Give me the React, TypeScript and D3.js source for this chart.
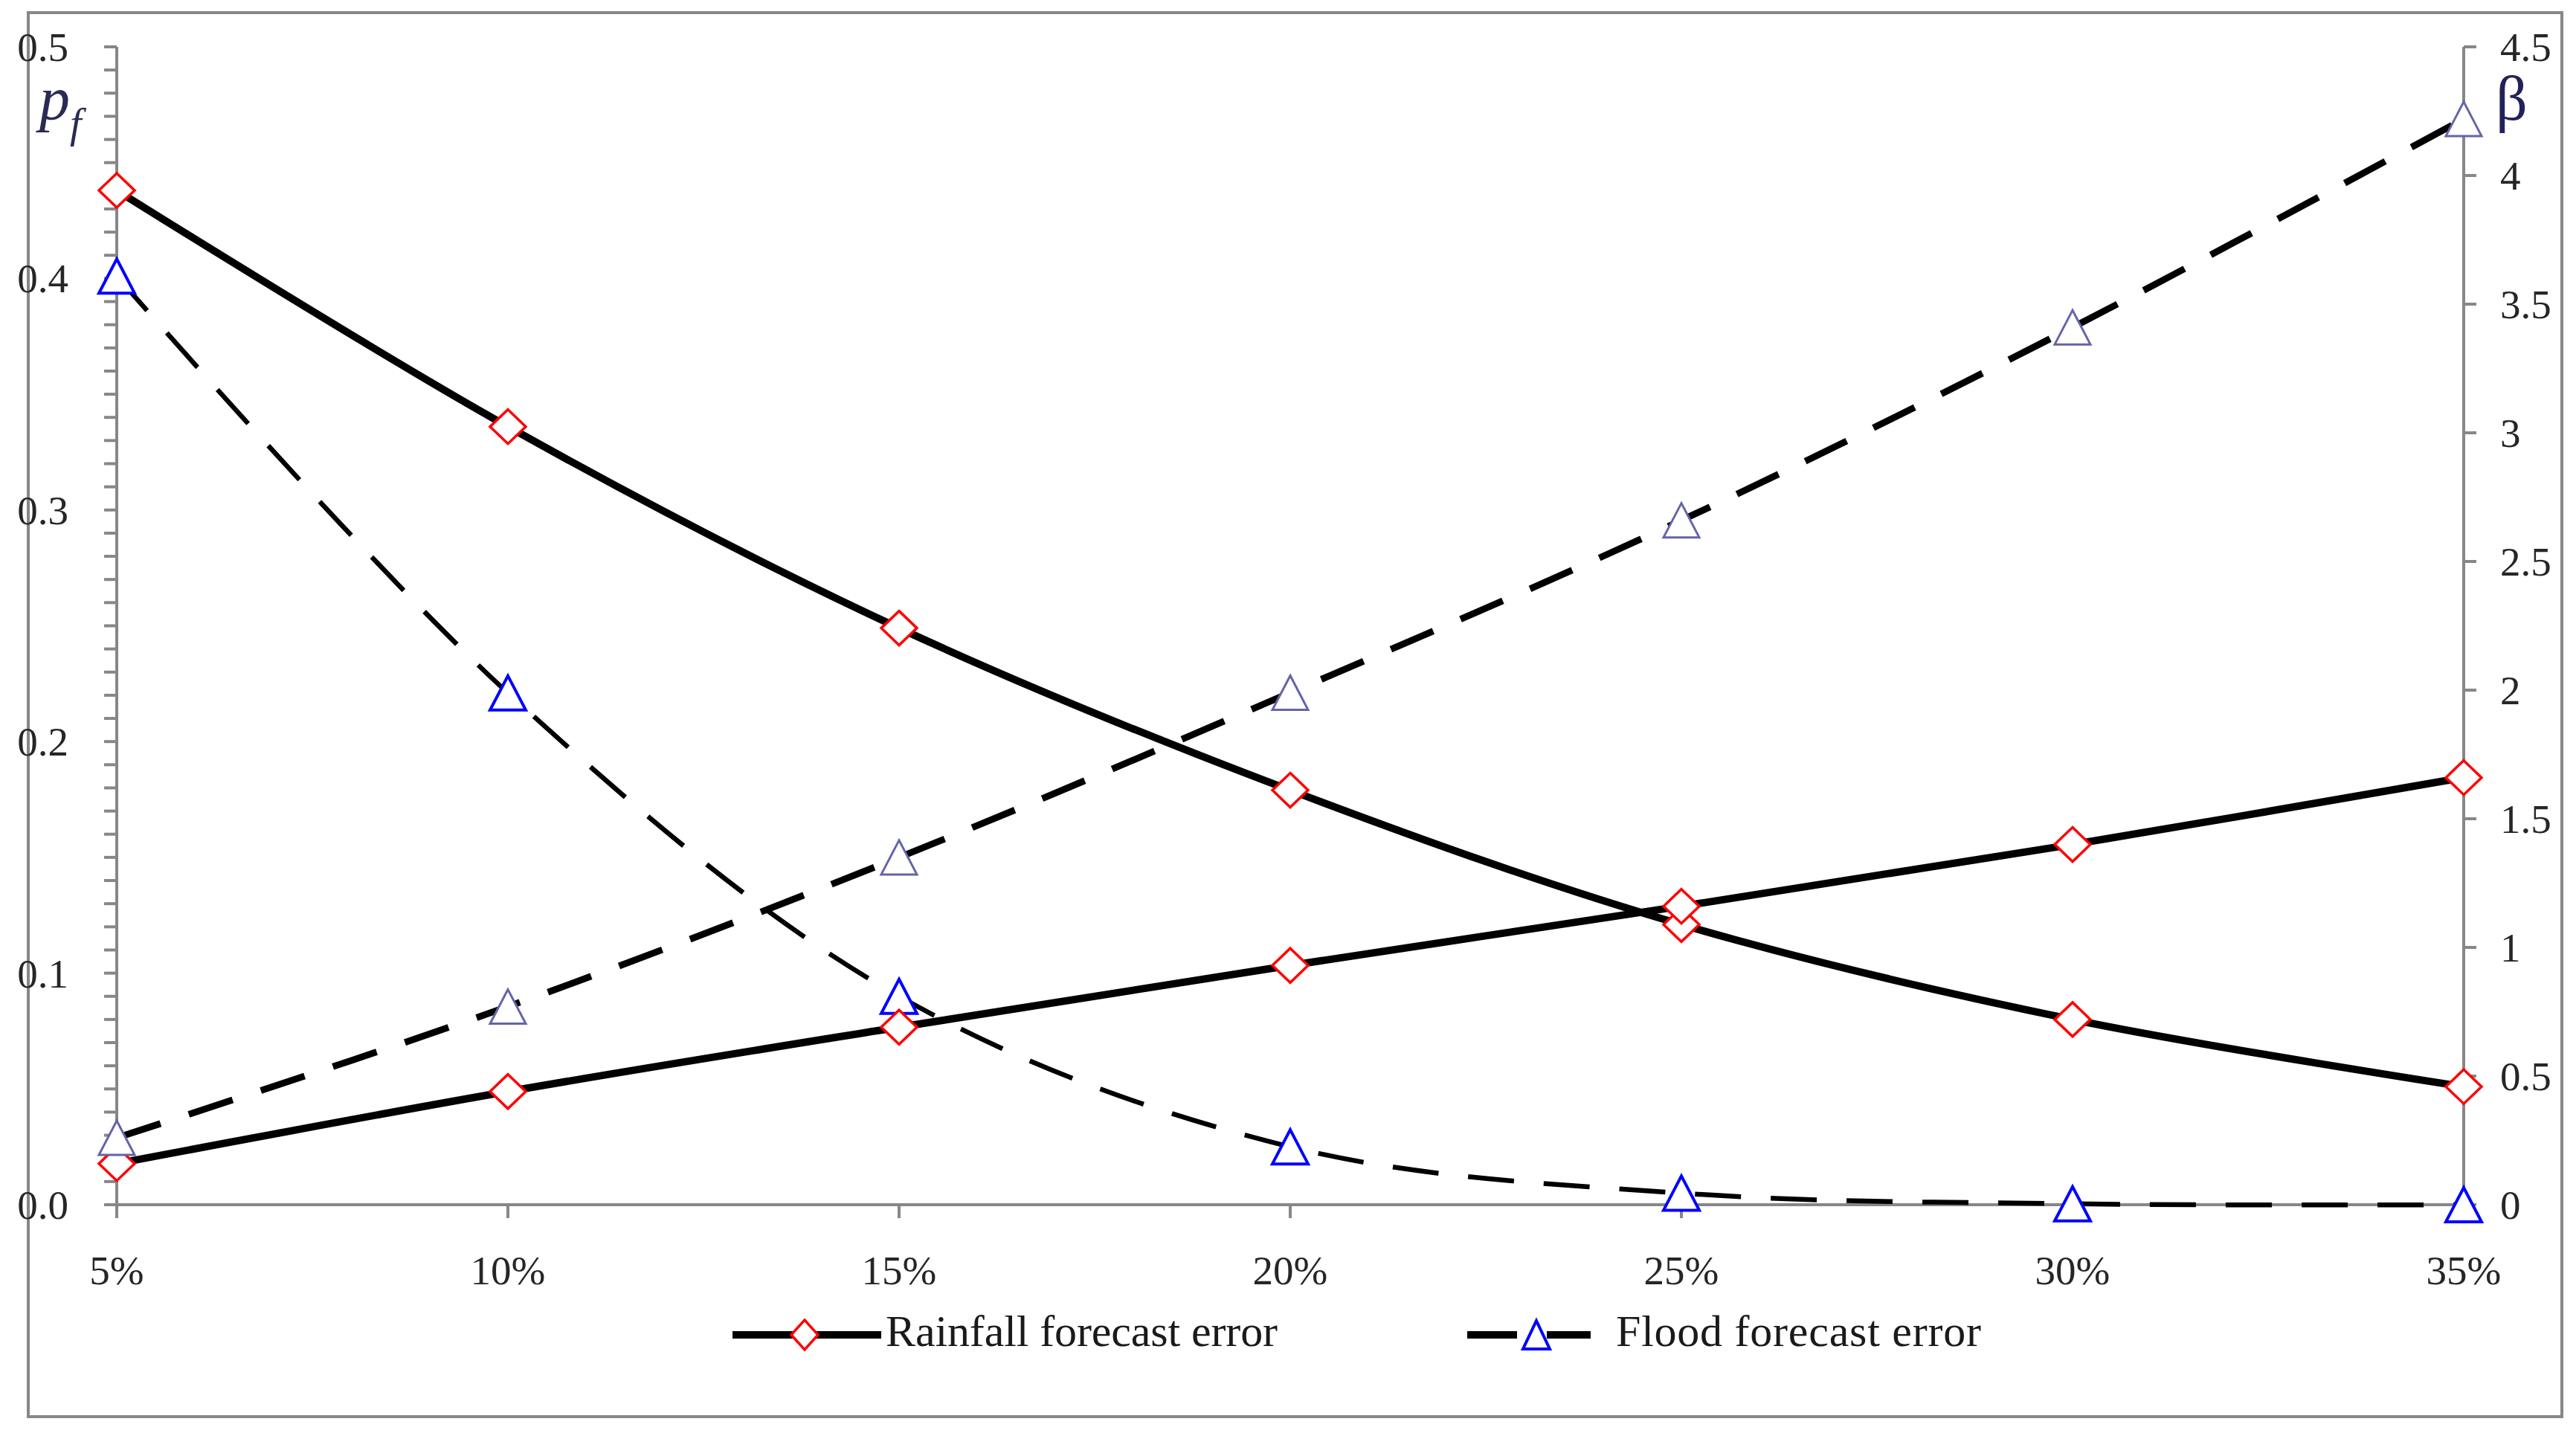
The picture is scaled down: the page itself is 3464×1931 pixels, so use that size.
import React, { useEffect } from "react";
import * as d3 from "d3";

// ---- data ----
const categories = ["5%", "10%", "15%", "20%", "25%", "30%", "35%"];
const rainfallPf = [0.438, 0.336, 0.249, 0.179, 0.121, 0.08, 0.051];
const floodPf = [0.401, 0.221, 0.09, 0.025, 0.005, 0.0004, 0.00001];
const rainfallBeta = [0.16, 0.44, 0.69, 0.93, 1.16, 1.4, 1.66];
const floodBeta = [0.26, 0.77, 1.35, 1.99, 2.66, 3.41, 4.22];
const leftTicks = [0, 0.1, 0.2, 0.3, 0.4, 0.5];
const leftTickLabels = ["0.0", "0.1", "0.2", "0.3", "0.4", "0.5"];
const rightTicks = [0, 0.5, 1, 1.5, 2, 2.5, 3, 3.5, 4, 4.5];
const rightTickLabels = ["0", "0.5", "1", "1.5", "2", "2.5", "3", "3.5", "4", "4.5"];
const legendLabels = ["Rainfall forecast error", "Flood forecast error"];

const W = 3464;
const H = 1931;
const AX = "#878787";
const FONT = "'Liberation Serif', 'Times New Roman', serif";

export default function App() {
  useEffect(() => {
    document.body.style.margin = "0";
  }, []);

  const x = d3.scalePoint<string>().domain(categories).range([157, 3313]);
  const yL = d3.scaleLinear().domain([0, 0.5]).range([1620, 63]);
  const yR = d3.scaleLinear().domain([0, 4.5]).range([1620, 63]);

  const lineL = d3
    .line<number>()
    .x((_, i) => x(categories[i]) as number)
    .y((d) => yL(d))
    .curve(d3.curveCatmullRom.alpha(0.5));
  const lineR = d3
    .line<number>()
    .x((_, i) => x(categories[i]) as number)
    .y((d) => yR(d))
    .curve(d3.curveCatmullRom.alpha(0.5));

  const diamond = (w: number, h: number) =>
    `M0,${-h / 2}L${w / 2},0L0,${h / 2}L${-w / 2},0Z`;
  const triangle = (w: number, h: number) =>
    `M0,${-h / 2}L${w / 2},${h / 2}L${-w / 2},${h / 2}Z`;

  const minorTicks = d3.range(0, 51).map((i) => i / 100);

  const series = [
    { vals: rainfallPf, gen: lineL, y: yL, dash: null, sw: 10, shape: diamond(48, 46), color: "#ff0000", msw: 3.5 },
    { vals: floodPf, gen: lineL, y: yL, dash: "62 40", sw: 6.5, shape: triangle(48, 46), color: "#0000ff", msw: 4 },
    { vals: rainfallBeta, gen: lineR, y: yR, dash: null, sw: 10, shape: diamond(48, 46), color: "#ff0000", msw: 3.5 },
    { vals: floodBeta, gen: lineR, y: yR, dash: "62 40", sw: 9, shape: triangle(48, 46), color: "#6464aa", msw: 3 },
  ];

  return (
    <svg
      width={W}
      height={H}
      viewBox={`0 0 ${W} ${H}`}
      style={{ position: "absolute", left: 0, top: 0, display: "block", background: "#fff" }}
    >
      <rect x={0} y={0} width={W} height={H} fill="#fff" />
      {/* outer frame */}
      <rect x={38} y={17} width={3407} height={1888} fill="none" stroke={AX} strokeWidth={4} />

      {/* left axis */}
      <line x1={157} x2={157} y1={63} y2={1620} stroke={AX} strokeWidth={4} />
      {minorTicks.map((v, i) => (
        <line key={"lm" + i} x1={140} x2={157} y1={yL(v)} y2={yL(v)} stroke={AX} strokeWidth={4} />
      ))}
      {leftTicks.map((v, i) => (
        <text
          key={"lt" + i}
          x={92}
          y={yL(v) + 19}
          textAnchor="end"
          fontFamily={FONT}
          fontSize={55}
          fill="#262626"
        >
          {leftTickLabels[i]}
        </text>
      ))}

      {/* right axis */}
      <line x1={3313} x2={3313} y1={63} y2={1620} stroke={AX} strokeWidth={4} />
      {rightTicks.map((v, i) => (
        <g key={"rt" + i}>
          <line x1={3313} x2={3330} y1={yR(v)} y2={yR(v)} stroke={AX} strokeWidth={4} />
          <text x={3362} y={yR(v) + 19} textAnchor="start" fontFamily={FONT} fontSize={55} fill="#262626">
            {rightTickLabels[i]}
          </text>
        </g>
      ))}

      {/* x axis */}
      <line x1={140} x2={3313} y1={1620} y2={1620} stroke={AX} strokeWidth={4} />
      {categories.map((c) => (
        <g key={"xt" + c}>
          <line x1={x(c)} x2={x(c)} y1={1620} y2={1638} stroke={AX} strokeWidth={4} />
          <text x={x(c)} y={1727} textAnchor="middle" fontFamily={FONT} fontSize={55} fill="#262626">
            {c}
          </text>
        </g>
      ))}

      {/* axis titles */}
      <text x={53} y={160} fontFamily={FONT} fontStyle="italic" fontSize={82} fill="#2a2a55">
        p
      </text>
      <text x={94} y={185} fontFamily={FONT} fontStyle="italic" fontSize={56} fill="#2a2a55">
        f
      </text>
      <text x={3356} y={161} fontFamily={FONT} fontSize={84} fill="#22225a">
        β
      </text>

      {/* series */}
      {series.map((s, si) => (
        <g key={"s" + si}>
          <path
            d={s.gen(s.vals) || ""}
            fill="none"
            stroke="#000"
            strokeWidth={s.sw}
            strokeDasharray={s.dash || undefined}
            strokeLinejoin="round"
          />
          {s.vals.map((v, i) => (
            <path
              key={i}
              d={s.shape}
              transform={`translate(${x(categories[i])},${s.y(v)})`}
              fill="#fff"
              stroke={s.color}
              strokeWidth={s.msw}
            />
          ))}
        </g>
      ))}

      {/* legend */}
      <line x1={985} x2={1185} y1={1795} y2={1795} stroke="#000" strokeWidth={10} />
      <path d={diamond(36, 40)} transform="translate(1082,1795)" fill="#fff" stroke="#ff0000" strokeWidth={3.5} />
      <text x={1191} y={1810} fontFamily={FONT} fontSize={60} fill="#1a1a1a" textLength={527} lengthAdjust="spacing">
        {legendLabels[0]}
      </text>
      <line x1={1973} x2={2139} y1={1795} y2={1795} stroke="#000" strokeWidth={10} strokeDasharray="67 40" />
      <path d={triangle(36, 38)} transform="translate(2066,1795)" fill="#fff" stroke="#0000ff" strokeWidth={4} />
      <text x={2173} y={1810} fontFamily={FONT} fontSize={60} fill="#1a1a1a" textLength={491} lengthAdjust="spacing">
        {legendLabels[1]}
      </text>
    </svg>
  );
}
